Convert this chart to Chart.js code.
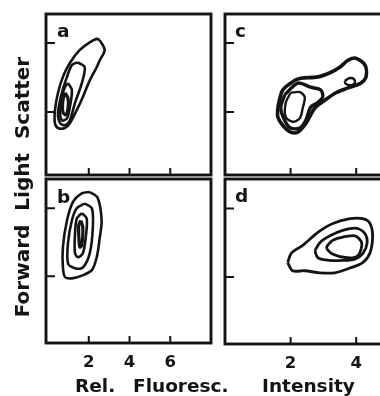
<!DOCTYPE html>
<html>
<head>
<meta charset="utf-8">
<script src="https://cdn.jsdelivr.net/npm/chart.js@4.4.0/dist/chart.umd.min.js"></script>
<style>
  html, body { margin: 0; padding: 0; background: #fff; width: 380px; height: 396px; overflow: hidden; }
  canvas { position: absolute; }
  .txt { position: absolute; font-family: "DejaVu Sans", sans-serif; font-weight: bold; color: #141414; white-space: pre; }
</style>
</head>
<body>
<canvas id="panelA" width="173" height="169" style="left:42px;top:10px"></canvas>
<canvas id="panelB" width="173" height="200" style="left:42px;top:175px"></canvas>
<canvas id="panelC" width="172" height="169" style="left:221px;top:10px"></canvas>
<canvas id="panelD" width="172" height="201" style="left:221px;top:175px"></canvas>

<div class="txt" style="left:57px;top:22px;font-size:18.5px;line-height:18.5px">a</div>
<div class="txt" style="left:57px;top:188px;font-size:18.5px;line-height:18.5px">b</div>
<div class="txt" style="left:235px;top:22px;font-size:18.5px;line-height:18.5px">c</div>
<div class="txt" style="left:235px;top:187px;font-size:18.5px;line-height:18.5px">d</div>

<div class="txt" style="left:75px;top:377px;font-size:18.5px;line-height:18.5px">Rel.</div>
<div class="txt" style="left:133px;top:377px;font-size:18.5px;line-height:18.5px">Fluoresc.</div>
<div class="txt" style="left:262px;top:377px;font-size:18.5px;line-height:18.5px">Intensity</div>

<div class="txt" style="left:-128px;top:177px;width:300px;text-align:center;font-size:20px;line-height:20px;transform:rotate(-90deg)">Forward  Light  Scatter</div>

<script>
// contour rings, [fluorescence, scatter]
const ringsA = [
  [[2.54,2.04],[2.78,1.90],[2.54,1.75],[2.39,1.65],[2.05,1.46],[1.71,1.22],[1.41,1.03],[1.07,0.84],[0.83,0.77],[0.49,0.77],[0.34,0.84],[0.34,1.03],[0.49,1.28],[0.73,1.51],[1.07,1.71],[1.56,1.90],[2.05,2.01],[2.39,2.06]],
  [[1.46,1.72],[1.80,1.65],[1.66,1.42],[1.32,1.13],[1.07,0.88],[0.83,0.81],[0.59,0.84],[0.49,0.99],[0.68,1.28],[0.93,1.51],[1.17,1.68]],
  [[0.98,1.42],[1.17,1.32],[1.07,1.07],[0.93,0.91],[0.68,0.88],[0.59,1.03],[0.73,1.28],[0.88,1.39]],
  [[0.83,1.28],[0.98,1.20],[0.98,1.06],[0.88,0.96],[0.73,1.00],[0.73,1.17]]
];
const ringsB = [
  [[2.05,2.24],[2.44,2.15],[2.63,1.82],[2.54,1.57],[2.39,1.28],[2.15,1.09],[1.66,1.01],[1.17,0.97],[0.83,0.99],[0.73,1.13],[0.73,1.43],[0.93,1.82],[1.22,2.09],[1.66,2.22]],
  [[1.80,2.07],[2.15,2.00],[2.20,1.72],[2.05,1.34],[1.71,1.13],[1.32,1.12],[0.98,1.19],[0.98,1.49],[1.17,1.82],[1.41,2.00]],
  [[1.66,1.93],[1.90,1.85],[1.85,1.57],[1.71,1.34],[1.46,1.28],[1.32,1.35],[1.32,1.60],[1.41,1.85]],
  [[1.61,1.82],[1.71,1.71],[1.66,1.46],[1.56,1.43],[1.51,1.60],[1.51,1.76]]
];
const ringsC = [
  [[1.61,1.07],[1.76,1.32],[2.13,1.46],[2.31,1.49],[2.83,1.51],[3.20,1.57],[3.50,1.65],[3.75,1.75],[3.99,1.78],[4.27,1.68],[4.30,1.51],[4.14,1.42],[3.75,1.35],[3.38,1.28],[3.04,1.17],[2.74,1.06],[2.58,0.93],[2.43,0.81],[2.22,0.71],[2.00,0.71],[1.76,0.81],[1.61,0.93]],
  [[1.82,1.25],[2.22,1.42],[2.61,1.36],[2.92,1.32],[2.98,1.22],[2.83,1.14],[2.61,1.07],[2.46,0.88],[2.28,0.77],[2.00,0.77],[1.82,0.88],[1.70,1.06]],
  [[2.00,1.28],[2.28,1.29],[2.43,1.22],[2.37,1.06],[2.28,0.91],[2.06,0.86],[1.85,0.93],[1.85,1.13]],
  [[3.65,1.45],[3.78,1.49],[3.93,1.48],[3.96,1.42],[3.84,1.39],[3.68,1.41]]
];
const ringsD = [
  [[1.91,1.21],[2.03,1.35],[2.37,1.46],[2.83,1.65],[3.29,1.78],[3.81,1.85],[4.20,1.85],[4.42,1.78],[4.50,1.60],[4.42,1.35],[4.20,1.21],[3.81,1.13],[3.35,1.06],[2.89,1.06],[2.43,1.09],[2.06,1.09]],
  [[2.74,1.38],[2.89,1.50],[3.20,1.60],[3.59,1.68],[4.02,1.71],[4.27,1.63],[4.33,1.49],[4.20,1.34],[3.96,1.26],[3.59,1.24],[3.20,1.24],[2.83,1.28]],
  [[3.26,1.53],[3.41,1.56],[3.96,1.60],[4.17,1.49],[4.05,1.31],[3.72,1.28],[3.26,1.34],[3.10,1.43]]
];

const xTicksLeft = [2, 4, 6];
const xTicksRight = [2, 4];
const yTicks = [1, 2];

const INK = '#141414';
const FONT = '"DejaVu Sans", sans-serif';

// box round the plot area plus the short inward ticks
const frame = {
  id: 'frame',
  afterDatasetsDraw(chart, args, opts) {
    const ctx = chart.ctx, a = chart.chartArea;
    const x = chart.scales.x, y = chart.scales.y;
    ctx.save();
    ctx.strokeStyle = INK;
    ctx.lineWidth = 2.9;
    ctx.strokeRect(a.left, a.top, a.right - a.left, a.bottom - a.top);
    ctx.lineWidth = 2;
    ctx.beginPath();
    opts.xTicks.forEach(v => {
      const px = x.getPixelForValue(v);
      ctx.moveTo(px, a.bottom);
      ctx.lineTo(px, a.bottom - 7);
    });
    opts.yTicks.forEach(v => {
      const py = y.getPixelForValue(v);
      ctx.moveTo(a.left, py);
      ctx.lineTo(a.left + 9, py);
    });
    ctx.stroke();
    ctx.restore();
  }
};

function closeRing(r) {
  const pts = r.map(p => ({ x: p[0], y: p[1] }));
  pts.push({ x: r[0][0], y: r[0][1] });
  return pts;
}

function makePanel(id, rings, widths, xMin, xMax, yMin, yMax, xTicks, withLabels) {
  const datasets = rings.map((r, i) => ({
    data: closeRing(r),
    showLine: true,
    borderColor: INK,
    borderWidth: widths[i],
    pointRadius: 0,
    tension: 0.3,
    fill: false
  }));
  const xScale = {
    type: 'linear', min: xMin, max: xMax, display: withLabels,
    grid: { display: false, drawTicks: false },
    border: { display: false },
    afterBuildTicks: s => { s.ticks = xTicks.map(v => ({ value: v })); },
    ticks: { padding: 10, color: INK, font: { family: FONT, size: 16.5, weight: 'bold' } }
  };
  if (withLabels) xScale.afterFit = s => { s.height = 32; };
  return new Chart(document.getElementById(id), {
    type: 'scatter',
    data: { datasets: datasets },
    options: {
      responsive: false,
      animation: false,
      events: [],
      layout: { padding: { left: 4, top: 4, right: 4, bottom: withLabels ? 0 : 4 } },
      plugins: {
        legend: { display: false },
        tooltip: { enabled: false },
        frame: { xTicks: xTicks, yTicks: yTicks }
      },
      scales: {
        x: xScale,
        y: { type: 'linear', min: yMin, max: yMax, display: false }
      }
    },
    plugins: [frame]
  });
}

makePanel('panelA', ringsA, [2.6, 2.6, 2.6, 3.2], -0.1, 8, 0.09, 2.42, xTicksLeft, false);
makePanel('panelB', ringsB, [2.6, 2.6, 2.6, 3.2], -0.1, 8, 0.02, 2.43, xTicksLeft, true);
makePanel('panelC', ringsC, [3.6, 3.4, 2.4, 2.4], 0, 5, 0.09, 2.42, xTicksRight, false);
makePanel('panelD', ringsD, [2.8, 2.8, 2.8], 0, 5, 0.02, 2.43, xTicksRight, true);
</script>
</body>
</html>
